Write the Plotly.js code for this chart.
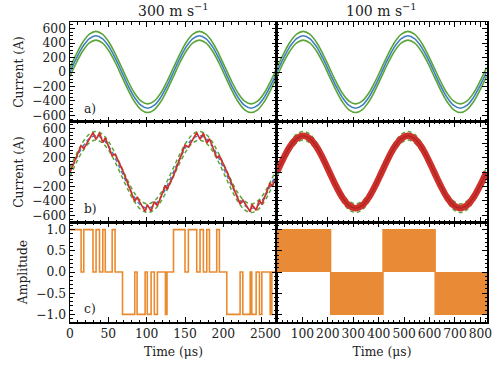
<!DOCTYPE html>
<html>
<head>
<meta charset="utf-8">
<script src="https://cdn.plot.ly/plotly-3.0.1.min.js"></script>
<style>html,body{margin:0;padding:0;background:#fff}#chart{width:497px;height:367px}</style>
</head>
<body>
<div id="chart"></div>
<script>
// ---- data ----
const columnTitles = ['300 m s<sup>−1</sup>', '100 m s<sup>−1</sup>'];
const panelLabels = ['a)', 'b)', 'c)'];

// sample times (µs), 16 samples per fundamental period
const timeLeft = [0, 8.44, 16.88, 25.31, 33.75, 42.19, 50.63, 59.06, 67.5, 75.94, 84.38, 92.81, 101.25, 109.69, 118.13, 126.56, 135,
  143.44, 151.88, 160.31, 168.75, 177.19, 185.63, 194.06, 202.5, 210.94, 219.38, 227.81, 236.25, 244.69, 253.13, 261.56, 270];
const timeRight = [0, 25.75, 51.5, 77.25, 103, 128.75, 154.5, 180.25, 206, 231.75, 257.5, 283.25, 309, 334.75, 360.5, 386.25, 412,
  437.75, 463.5, 489.25, 515, 540.75, 566.5, 592.25, 618, 643.75, 669.5, 695.25, 721, 746.75, 772.5, 798.25, 824];

// reference current (A) and hysteresis band edges (A)
const refCurrent = [0, 191, 354, 462, 500, 462, 354, 191, 0, -191, -354, -462, -500, -462, -354, -191, 0,
  191, 354, 462, 500, 462, 354, 191, 0, -191, -354, -462, -500, -462, -354, -191, 0];
const bandUpper = [60, 251, 414, 522, 560, 522, 414, 251, 60, -131, -294, -402, -440, -402, -294, -131, 60,
  251, 414, 522, 560, 522, 414, 251, 60, -131, -294, -402, -440, -402, -294, -131, 60];
const bandLower = [-60, 131, 294, 402, 440, 402, 294, 131, -60, -251, -414, -522, -560, -522, -414, -251, -60,
  131, 294, 402, 440, 402, 294, 131, -60, -251, -414, -522, -560, -522, -414, -251, -60];

// switching instants (µs) at 300 m/s, measured current at those instants (A) and inverter level
const switchTimesLeft = [0, 14.5, 18, 30, 34, 38.5, 42.8, 46, 55, 58.8, 68.5, 84.5, 87.5, 98, 100.8, 105.8, 110, 114, 124.5, 126.5,
  135, 150, 154.4, 165.3, 169.6, 174, 178.4, 181.9, 191.4, 194.9, 204.5, 221.9, 225.4, 235, 237.1, 242.8, 247.1, 250.2, 261.1, 263.3, 270];
const measuredCurrentLeft = [0, 362, 322, 542, 450, 538, 406, 471, 224, 247, 27, -405, -351, -544, -450, -539, -409, -465, -185, -240,
  -50, 371, 343, 544, 450, 535, 400, 459, 197, 223, 4, -443, -387, -549, -450, -526, -387, -448, -150, -201, -47];
const amplitudeLeft = [1, 0, 1, 0, 1, 0, 1, 0, 1, 0, -1, 0, -1, 0, -1, 0, -1, 0, -1, 0,
  1, 0, 1, 0, 1, 0, 1, 0, 1, 0, -1, 0, -1, 0, -1, 0, -1, 0, -1, 0, 0];

// at 100 m/s the switching is so dense that it fills half-period blocks
const blockEdgesRight = [0, 211, 417, 622, 826];
const blockLevelRight = [1, -1, 1, -1, -1];

// tick values
const xTicksLeft = [0, 50, 100, 150, 200, 250];
const xTicksRight = [0, 100, 200, 300, 400, 500, 600, 700, 800];
const yTicksCurrent = [-600, -400, -200, 0, 200, 400, 600];
const yTicksAmp = [-1.0, -0.5, 0.0, 0.5, 1.0];

// ---- styling ----
const FONT = 'DejaVu Serif';
const FS = 12.3;
const BLUE = '#3f7dc4', GREEN = '#5aa537', RED = '#d0302c', ORANGE = '#ea8a2e';
const colL = [0, 0.4964], colR = [0.4964, 1];
const rows = [[0.6667, 1], [0.3333, 0.6667], [0, 0.3333]];

function tr(x, y, xa, ya, line, extra) {
  return Object.assign({x: x, y: y, xaxis: xa, yaxis: ya, mode: 'lines', line: line, hoverinfo: 'skip'}, extra || {});
}

const data = [];
// row 1 (a)
[['x', 'y', timeLeft], ['x2', 'y2', timeRight]].forEach(([xa, ya, t]) => {
  data.push(tr(t, bandUpper, xa, ya, {color: GREEN, width: 1.6, shape: 'spline'}));
  data.push(tr(t, bandLower, xa, ya, {color: GREEN, width: 1.6, shape: 'spline'}));
  data.push(tr(t, refCurrent, xa, ya, {color: BLUE, width: 1.6, shape: 'spline'}));
});
// row 2 (b)
data.push(tr(timeLeft, bandUpper, 'x3', 'y3', {color: GREEN, width: 1.5, dash: '4px,3px', shape: 'spline'}));
data.push(tr(timeLeft, bandLower, 'x3', 'y3', {color: GREEN, width: 1.5, dash: '4px,3px', shape: 'spline'}));
data.push(tr(timeLeft, refCurrent, 'x3', 'y3', {color: BLUE, width: 1.5, dash: '4px,3px', shape: 'spline'}));
data.push(tr(switchTimesLeft, measuredCurrentLeft, 'x3', 'y3', {color: RED, width: 1.7}));
data.push(tr(timeRight, bandUpper, 'x4', 'y4', {color: GREEN, width: 1.5, dash: '4px,3px', shape: 'spline'}));
data.push(tr(timeRight, bandLower, 'x4', 'y4', {color: GREEN, width: 1.5, dash: '4px,3px', shape: 'spline'}));
data.push(tr(timeRight, refCurrent, 'x4', 'y4', {color: BLUE, width: 1.5, dash: '4px,3px', shape: 'spline'}));
data.push(tr(timeRight, refCurrent, 'x4', 'y4', {color: RED, width: 6.5, shape: 'spline'}));
data.push(tr(timeRight, refCurrent, 'x4', 'y4', {color: '#a82424', width: 1.2, shape: 'spline'}));
// row 3 (c)
data.push(tr(switchTimesLeft, amplitudeLeft, 'x5', 'y5', {color: ORANGE, width: 1.6, shape: 'hv'}));
data.push(tr(blockEdgesRight, blockLevelRight, 'x6', 'y6', {color: ORANGE, width: 1.4, shape: 'hv'},
  {fill: 'tozeroy', fillcolor: 'rgba(232,132,44,0.95)'}));

const TF = {family: FONT, size: FS, color: '#222'};
function ax(extra) {
  return Object.assign({
    showline: true, mirror: 'allticks', linecolor: '#000', linewidth: 1.5,
    ticks: 'inside', ticklen: 5, tickwidth: 1, tickcolor: '#000',
    showgrid: false, zeroline: false, fixedrange: true, tickangle: 0,
    tickfont: TF
  }, extra);
}
const minor = (d) => ({ticks: 'inside', ticklen: 2.5, tickwidth: 1, tickcolor: '#000', dtick: d, showgrid: false});
const xL = (anchor, labels, title) => ax({domain: colL, range: [0, 270], tickvals: xTicksLeft, ticktext: xTicksLeft.map(String),
  minor: minor(10), anchor: anchor, showticklabels: labels, title: title ? {text: title, standoff: 7, font: TF} : undefined});
const xR = (anchor, labels, title) => ax({domain: colR, range: [0, 826], tickvals: xTicksRight, ticktext: xTicksRight.map(String),
  minor: minor(20), anchor: anchor, showticklabels: labels, title: title ? {text: title, standoff: 7, font: TF} : undefined});
const yC = (dom, anchor, labels) => ax({domain: dom, range: [-690, 690], tickvals: yTicksCurrent,
  ticktext: yTicksCurrent.map(v => v < 0 ? '−' + Math.abs(v) : String(v)), minor: minor(50), anchor: anchor, showticklabels: labels,
  title: labels ? {text: 'Current (A)', standoff: 6, font: TF} : undefined});
const yA = (dom, anchor, labels) => ax({domain: dom, range: [-1.18, 1.18], tickvals: yTicksAmp,
  ticktext: yTicksAmp.map(v => (v < 0 ? '−' : '') + Math.abs(v).toFixed(1)), minor: minor(0.1), anchor: anchor, showticklabels: labels,
  title: labels ? {text: 'Amplitude', standoff: 6, font: TF} : undefined});

const annotations = [];
columnTitles.forEach((t, i) => annotations.push({text: t, xref: (i ? 'x2' : 'x') + ' domain', x: 0.5, yref: 'paper', y: 1,
  yanchor: 'bottom', yshift: 1, showarrow: false, font: {family: FONT, size: 14, color: '#222'}}));
panelLabels.forEach((t, i) => annotations.push({text: t, xref: ['x', 'x3', 'x5'][i] + ' domain', x: 0.06, xanchor: 'left',
  yref: ['y', 'y3', 'y5'][i] + ' domain', y: 0.13, yanchor: 'middle', showarrow: false, font: TF}));

const layout = {
  width: 497, height: 367,
  margin: {l: 70, r: 10, t: 22, b: 45},
  showlegend: false,
  paper_bgcolor: '#fff', plot_bgcolor: '#fff',
  font: {family: FONT, size: FS, color: '#222'},
  xaxis: xL('y', false), yaxis: yC(rows[0], 'x', true),
  xaxis2: xR('y2', false), yaxis2: yC(rows[0], 'x2', false),
  xaxis3: xL('y3', false), yaxis3: yC(rows[1], 'x3', true),
  xaxis4: xR('y4', false), yaxis4: yC(rows[1], 'x4', false),
  xaxis5: xL('y5', true, 'Time (μs)'), yaxis5: yA(rows[2], 'x5', true),
  xaxis6: xR('y6', true, 'Time (μs)'), yaxis6: yA(rows[2], 'x6', false),
  annotations: annotations
};
Plotly.newPlot('chart', data, layout, {staticPlot: true, displayModeBar: false});
</script>
</body>
</html>
